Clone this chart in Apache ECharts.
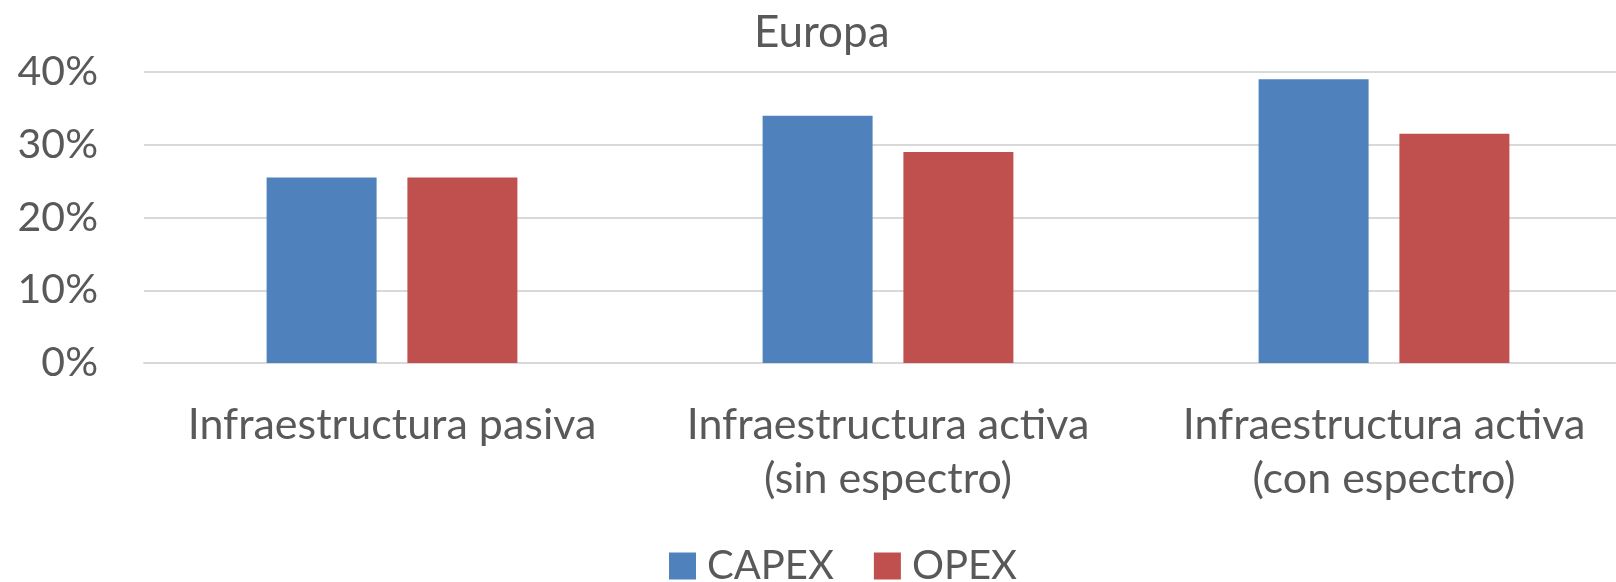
<!DOCTYPE html>
<html>
<head>
<meta charset="UTF-8">
<title>Europa</title>
<script src="https://cdn.jsdelivr.net/npm/echarts@6/dist/echarts.min.js"></script>
<style>
html, body { margin: 0; padding: 0; width: 100%; height: 100%; background: #fff; overflow: hidden; }
#main { width: 1616px; height: 582px; }
</style>
</head>
<body>
<div id="main"></div>
<script>
var categories = ['Infraestructura pasiva', 'Infraestructura activa\n(sin espectro)', 'Infraestructura activa\n(con espectro)'];
var capex = [25.5, 34.0, 39.0];
var opex = [25.5, 29.0, 31.5];

var textColor = '#595959';
var font = 'Lato';

var chart = echarts.init(document.getElementById('main'));
var option = {
	animation: false,
	title: {
		text: 'Europa',
		left: 749,
		top: 6,
		textStyle: { color: textColor, fontFamily: font, fontSize: 44, fontWeight: 'normal' }
	},
	legend: {
		data: ['CAPEX', 'OPEX'],
		left: 664,
		top: 541,
		icon: 'rect',
		itemWidth: 27,
		itemHeight: 27,
		itemGap: 40,
		textStyle: { color: textColor, fontFamily: font, fontSize: 40, padding: [0, 0, 0, 6] }
	},
	// plot runs past the right edge of the picture, as in the source
	grid: { left: 144, width: 1488, top: 72, bottom: 219, containLabel: false, outerBoundsMode: 'none' },
	xAxis: {
		type: 'category',
		data: categories,
		axisTick: { show: false },
		axisLine: { lineStyle: { color: '#D9D9D9', width: 2 } },
		axisLabel: { color: textColor, fontFamily: font, fontSize: 43, lineHeight: 54, margin: 35, interval: 0 }
	},
	yAxis: {
		type: 'value',
		min: 0,
		max: 40,
		interval: 10,
		axisLine: { show: false },
		axisTick: { show: false },
		splitLine: { lineStyle: { color: '#D9D9D9', width: 2 } },
		axisLabel: { color: textColor, fontFamily: font, fontSize: 41, margin: 46, formatter: '{value}%' }
	},
	series: [
		{ name: 'CAPEX', type: 'bar', data: capex, barWidth: 110, barGap: '28%', itemStyle: { color: '#4F81BD' } },
		{ name: 'OPEX', type: 'bar', data: opex, barWidth: 110, barGap: '28%', itemStyle: { color: '#C0504D' } }
	]
};
chart.setOption(option);
</script>
</body>
</html>
